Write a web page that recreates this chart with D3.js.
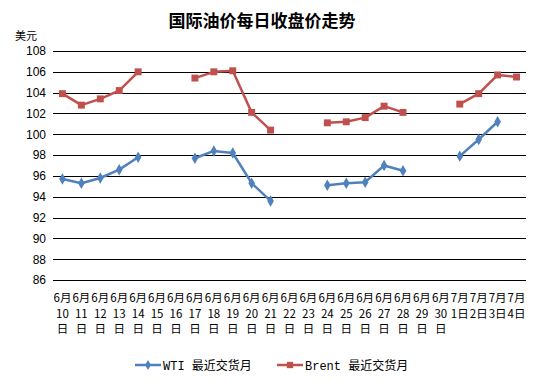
<!DOCTYPE html>
<html>
<head>
<meta charset="utf-8">
<script src="https://cdn.jsdelivr.net/npm/d3@7"></script>
<style>
  body { margin: 0; background: #fff; }
  svg { display: block; }
</style>
</head>
<body>
<svg id="chart" width="544" height="384"></svg>
<script>
// Data
const dates = [
    "6月|10|日", "6月|11|日", "6月|12|日", "6月|13|日", "6月|14|日", "6月|15|日", "6月|16|日",
    "6月|17|日", "6月|18|日", "6月|19|日", "6月|20|日", "6月|21|日", "6月|22|日", "6月|23|日",
    "6月|24|日", "6月|25|日", "6月|26|日", "6月|27|日", "6月|28|日", "6月|29|日", "6月|30|日",
    "7月|1日", "7月|2日", "7月|3日", "7月|4日"
];
const wti = [95.7, 95.3, 95.8, 96.6, 97.8, null, null,
    97.7, 98.4, 98.2, 95.3, 93.6, null, null,
    95.1, 95.3, 95.4, 97.0, 96.5, null, null,
    97.9, 99.5, 101.2, null];
const brent = [103.9, 102.8, 103.4, 104.2, 106.0, null, null,
    105.4, 106.0, 106.1, 102.1, 100.4, null, null,
    101.1, 101.2, 101.6, 102.7, 102.1, null, null,
    102.9, 103.9, 105.7, 105.5];
const yTicks = [86, 88, 90, 92, 94, 96, 98, 100, 102, 104, 106, 108];

const series = [
    { name: "WTI 最近交货月", values: wti, color: "#4F81BD", marker: "diamond" },
    { name: "Brent 最近交货月", values: brent, color: "#C0504D", marker: "square" }
];

// Plot area
const margin = { left: 53, right: 18, top: 51, bottom: 104 };
const width = 544, height = 384;

let svg = d3.select("#chart");

let x = d3.scaleBand()
    .domain(dates)
    .range([margin.left, width - margin.right]);

let y = d3.scaleLinear()
    .domain([86, 108])
    .range([height - margin.bottom, margin.top]);

// Title
svg.append("text")
    .attr("x", 262)
    .attr("y", 27)
    .attr("text-anchor", "middle")
    .style("font-family", "'Noto Sans CJK SC', sans-serif")
    .style("font-size", "17px")
    .style("font-weight", "bold")
    .text("国际油价每日收盘价走势");

// Unit label
svg.append("text")
    .attr("x", 37)
    .attr("y", 40)
    .attr("text-anchor", "end")
    .style("font-family", "'Noto Sans CJK SC', sans-serif")
    .style("font-size", "11px")
    .text("美元");

// Gridlines
svg.append("g")
    .selectAll("line")
    .data(yTicks)
    .enter()
    .append("line")
    .attr("x1", margin.left)
    .attr("x2", width - margin.right)
    .attr("y1", d => Math.round(y(d)) + 0.5)
    .attr("y2", d => Math.round(y(d)) + 0.5)
    .attr("stroke", "#000")
    .attr("stroke-width", 1);

// Y axis labels
let yAxis = svg.append("g")
    .attr("transform", `translate(${margin.left - 7},0)`)
    .call(d3.axisLeft(y).tickValues(yTicks).tickSize(0).tickPadding(0));
yAxis.select(".domain").remove();
yAxis.selectAll("text")
    .style("font-family", "'Liberation Sans', Arial, sans-serif")
    .style("font-size", "12px")
    .attr("fill", "#000");

// X axis labels (stacked lines)
let xLabels = svg.append("g")
    .selectAll("text")
    .data(dates)
    .enter()
    .append("text")
    .attr("x", d => x(d) + x.bandwidth() / 2)
    .attr("y", 302)
    .attr("text-anchor", "middle")
    .style("font-family", "'Noto Sans CJK SC', sans-serif")
    .style("font-size", "11.5px");

xLabels.each(function (d) {
    let parts = d.split("|");
    let t = d3.select(this);
    parts.forEach((p, i) => {
        t.append("tspan")
            .attr("x", x(d) + x.bandwidth() / 2)
            .attr("dy", i === 0 ? 0 : 15.5)
            .text(p);
    });
});

// Lines
let line = d3.line()
    .defined(d => d[1] !== null)
    .x(d => x(d[0]) + x.bandwidth() / 2)
    .y(d => y(d[1]));

series.forEach(s => {
    let pts = dates.map((d, i) => [d, s.values[i]]);
    svg.append("path")
        .datum(pts)
        .attr("fill", "none")
        .attr("stroke", s.color)
        .attr("stroke-width", 2.5)
        .attr("stroke-linejoin", "round")
        .attr("d", line);

    let sym = s.marker === "diamond"
        ? d3.symbol().type(d3.symbolDiamond).size(38)
        : d3.symbol().type(d3.symbolSquare).size(48);

    svg.append("g")
        .selectAll("path")
        .data(pts.filter(p => p[1] !== null))
        .enter()
        .append("path")
        .attr("transform", p => `translate(${x(p[0]) + x.bandwidth() / 2},${y(p[1])})`)
        .attr("d", sym)
        .attr("fill", s.color);
});

// Legend
let legendX = [135, 277];
series.forEach((s, i) => {
    let g = svg.append("g").attr("transform", `translate(${legendX[i]},365)`);
    g.append("line")
        .attr("x1", 0).attr("x2", 26)
        .attr("y1", 0).attr("y2", 0)
        .attr("stroke", s.color)
        .attr("stroke-width", 2.5);
    let sym = s.marker === "diamond"
        ? d3.symbol().type(d3.symbolDiamond).size(30)
        : d3.symbol().type(d3.symbolSquare).size(40);
    g.append("path")
        .attr("transform", "translate(13,0)")
        .attr("d", sym)
        .attr("fill", s.color);
    g.append("text")
        .attr("x", 28)
        .attr("y", 5)
        .style("font-family", "'Liberation Mono', 'Noto Sans CJK SC', monospace")
        .style("font-size", "12px")
        .text(s.name);
});
</script>
</body>
</html>
